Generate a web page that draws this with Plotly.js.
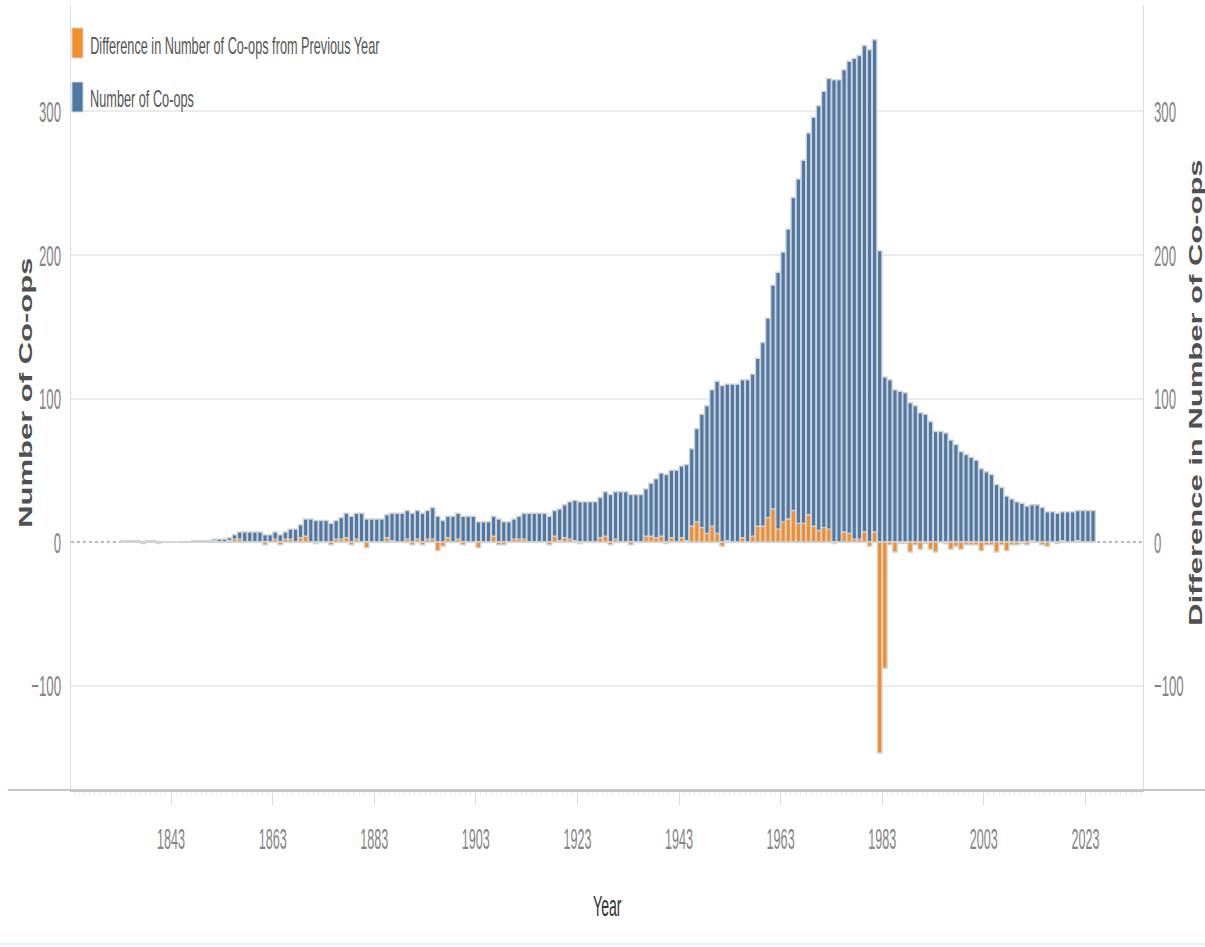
<!DOCTYPE html>
<html>
<head>
<meta charset="utf-8">
<script src="https://cdn.plot.ly/plotly-3.0.1.min.js"></script>
<style>
  html, body { margin: 0; padding: 0; background: #ffffff; }
  #chart { width: 1205px; height: 947px; }
</style>
</head>
<body>
<div id="chart"></div>
<script>
// ---------------- data ----------------
const startYear = 1833;
const years = [];
for (let y = startYear; y <= 2024; y++) years.push(y);

// Number of Co-ops per year, 1833 .. 2024
const coopCounts = [
  1, 1, 1, 1, 0, 1, 1, 0, 0, 0,            // 1833-1842
  0, 0, 0, 0, 1, 1, 1, 1, 2, 2,            // 1843-1852
  2, 3, 5, 7, 7, 7, 7, 7, 5, 5,            // 1853-1862
  7, 5, 7, 9, 9, 12, 16, 16, 15, 15,       // 1863-1872
  15, 13, 15, 17, 20, 18, 20, 20, 16, 16,  // 1873-1882
  16, 16, 19, 20, 20, 20, 22, 20, 22, 20,  // 1883-1892
  22, 24, 18, 15, 18, 18, 20, 18, 18, 18,  // 1893-1902
  14, 14, 14, 18, 16, 14, 14, 16, 18, 20,  // 1903-1912
  20, 20, 20, 20, 18, 22, 23, 26, 28, 29,  // 1913-1922
  28, 28, 28, 28, 31, 35, 33, 35, 35, 35,  // 1923-1932
  33, 33, 33, 37, 41, 44, 48, 47, 50, 50,  // 1933-1942
  53, 54, 65, 79, 89, 95, 106, 112, 109, 110,       // 1943-1952
  110, 110, 113, 113, 117, 128, 139, 156, 179, 188, // 1953-1962
  202, 218, 240, 253, 266, 285, 296, 304, 314, 323, // 1963-1972
  322, 322, 329, 335, 337, 339, 346, 343, 350, 203, // 1973-1982
  115, 113, 106, 105, 104, 97, 95, 90, 89, 84,      // 1983-1992
  77, 77, 76, 71, 68, 63, 61, 59, 57, 51,           // 1993-2002
  49, 47, 40, 38, 32, 30, 28, 27, 25, 26,           // 2003-2012
  26, 24, 21, 21, 20, 21, 21, 21, 22, 22,           // 2013-2022
  22, 22                                            // 2023-2024
];

// Difference in Number of Co-ops from Previous Year, 1833 .. 2024
const coopDiffs = [
  null, 0, 0, 0, -1, 1, 0, -1, 0, 0,       // 1833-1842
  0, 0, 0, 0, 1, 0, 0, 0, 1, 0,            // 1843-1852
  0, 1, 2, 2, 0, 0, 0, 0, -2, 0,           // 1853-1862
  2, -2, 2, 2, 0, 3, 4, 0, -1, 0,          // 1863-1872
  0, -2, 2, 2, 3, -2, 2, 0, -4, 0,         // 1873-1882
  0, 0, 3, 1, 0, 0, 2, -2, 2, -2,          // 1883-1892
  2, 2, -6, -3, 3, 0, 2, -2, 0, 0,         // 1893-1902
  -4, 0, 0, 4, -2, -2, 0, 2, 2, 2,         // 1903-1912
  0, 0, 0, 0, -2, 4, 1, 3, 2, 1,           // 1913-1922
  -1, 0, 0, 0, 3, 4, -2, 2, 0, 0,          // 1923-1932
  -2, 0, 0, 4, 4, 3, 4, -1, 3, 0,          // 1933-1942
  3, 1, 11, 14, 10, 6, 11, 6, -3, 1,       // 1943-1952
  0, 0, 3, 0, 4, 11, 11, 17, 23, 9,        // 1953-1962
  14, 16, 22, 13, 13, 19, 11, 8, 10, 9,    // 1963-1972
  -1, 0, 7, 6, 2, 2, 7, -3, 7, -147,       // 1973-1982
  -88, -2, -7, -1, -1, -7, -2, -5, -1, -5, // 1983-1992
  -7, 0, -1, -5, -3, -5, -2, -2, -2, -6,   // 1993-2002
  -2, -2, -7, -2, -6, -2, -2, -1, -2, 1,   // 2003-2012
  0, -2, -3, 0, -1, 1, 0, 0, 1, 0,         // 2013-2022
  0, 0                                     // 2023-2024
];

const tickYears = [1843, 1863, 1883, 1903, 1923, 1943, 1963, 1983, 2003, 2023];
const yTicks = [-100, 0, 100, 200, 300];

const seriesNames = ['Number of Co-ops', 'Difference in Number of Co-ops from Previous Year'];
const colors = { count: '#4e79a7', diff: '#f28e2b', halo: '#d3d3d3' };

// ---------------- chart ----------------
const FONT = 'Liberation Sans, Arial, sans-serif';
const yRange = [-172.8, 374.2];

const traces = [
  {
    type: 'bar', name: seriesNames[0], x: years, y: coopCounts,
    marker: { color: colors.count, line: { color: colors.halo, width: 1.4 } },
    yaxis: 'y', showlegend: false, hoverinfo: 'x+y'
  },
  {
    type: 'bar', name: seriesNames[1], x: years, y: coopDiffs,
    marker: { color: colors.diff, line: { color: colors.halo, width: 1.4 } },
    yaxis: 'y2', showlegend: false, hoverinfo: 'x+y'
  }
];

const tickFont = { family: FONT, size: 30, color: '#858585' };

const layout = {
  width: 1205, height: 947,
  margin: { l: 71, r: 62, t: 5, b: 157 },
  paper_bgcolor: '#ffffff', plot_bgcolor: '#ffffff',
  barmode: 'overlay', bargap: 0.1,
  showlegend: false,
  xaxis: {
    range: [1822.8, 2033.84],
    tickmode: 'array',
    tickvals: tickYears.map(y => y - 0.5),
    ticktext: tickYears.map(String),
    ticks: 'outside', ticklen: 13, tickwidth: 1, tickcolor: '#dcdcdc',
    ticklabelstandoff: 8,
    minor: { tickmode: 'linear', tick0: 1842.5, dtick: 1, ticks: 'outside', ticklen: 4, tickcolor: '#eeeeee', showgrid: false },
    showgrid: false, zeroline: false,
    showline: true, linecolor: '#c8c8c8', linewidth: 2,
    tickfont: tickFont
  },
  yaxis: {
    range: yRange, tickmode: 'array', tickvals: yTicks,
    showgrid: true, gridcolor: '#ececec', gridwidth: 1.5,
    zeroline: true, zerolinecolor: 'rgba(0,0,0,0)',
    showline: true, linecolor: '#dedede', linewidth: 1,
    ticks: '', ticklabelstandoff: 3,
    tickfont: tickFont
  },
  yaxis2: {
    range: yRange, tickmode: 'array', tickvals: yTicks,
    overlaying: 'y', side: 'right',
    showgrid: false, zeroline: false,
    showline: true, linecolor: '#dedede', linewidth: 1,
    ticks: '', ticklabelstandoff: 4,
    tickfont: tickFont
  },
  shapes: [
    { type: 'line', xref: 'paper', yref: 'y', x0: 0, x1: 1, y0: 0, y1: 0, layer: 'below',
      line: { color: '#a0a0a0', width: 1.5, dash: 'dot' } },
    { type: 'line', xref: 'paper', yref: 'paper', x0: -0.059, x1: 1.06, y0: 0, y1: 0,
      line: { color: '#c8c8c8', width: 2 } },
    { type: 'line', xref: 'paper', yref: 'paper', x0: -0.07, x1: 1.06, y0: -0.1962, y1: -0.1962,
      line: { color: '#d3ecef', width: 1.5 } },
    // legend swatches
    { type: 'rect', xref: 'paper', yref: 'paper', x0: 0.0009, x1: 0.0112, y0: 0.9325, y1: 0.9707,
      fillcolor: colors.diff, line: { color: colors.halo, width: 1 } },
    { type: 'rect', xref: 'paper', yref: 'paper', x0: 0.0009, x1: 0.0112, y0: 0.8637, y1: 0.9019,
      fillcolor: colors.count, line: { color: colors.halo, width: 1 } }
  ],
  annotations: [
    { text: seriesNames[1], xref: 'paper', yref: 'paper', x: 0.0158, y: 0.949,
      xanchor: 'left', yanchor: 'middle', showarrow: false,
      font: { family: FONT, size: 24, color: '#555555' } },
    { text: seriesNames[0], xref: 'paper', yref: 'paper', x: 0.0158, y: 0.8815,
      xanchor: 'left', yanchor: 'middle', showarrow: false,
      font: { family: FONT, size: 24, color: '#555555' } },
    { text: 'Number of Co-ops', xref: 'paper', yref: 'paper', x: -0.043, y: 0.5057,
      xanchor: 'center', yanchor: 'middle', textangle: -90, showarrow: false,
      font: { family: FONT, size: 31, color: '#505050', weight: 'bold' } },
    { text: 'Difference in Number of Co-ops', xref: 'paper', yref: 'paper', x: 1.0485, y: 0.507,
      xanchor: 'center', yanchor: 'middle', textangle: -90, showarrow: false,
      font: { family: FONT, size: 31, color: '#505050', weight: 'bold' } },
    { text: 'Year', xref: 'paper', yref: 'paper', x: 0.5, y: -0.1465,
      xanchor: 'center', yanchor: 'middle', showarrow: false,
      font: { family: FONT, size: 30, color: '#333333' } }
  ]
};

// horizontal squeeze of texts, to match the narrow lettering of the reference
function squeeze(nodes, s, pivotMode, vertical) {
  nodes.forEach(t => {
    const bb = t.getBBox();
    const tr = t.getAttribute('transform') || '';
    if (vertical) {
      const p = bb.y + bb.height / 2;
      t.setAttribute('transform', tr + ' translate(0,' + p + ') scale(1,' + s + ') translate(0,' + (-p) + ')');
    } else {
      const anchor = pivotMode || t.getAttribute('text-anchor') || 'middle';
      let p = bb.x + bb.width / 2;
      if (anchor === 'start') p = bb.x;
      else if (anchor === 'end') p = bb.x + bb.width;
      t.setAttribute('transform', tr + ' translate(' + p + ',0) scale(' + s + ',1) translate(' + (-p) + ',0)');
    }
  });
}

Plotly.newPlot('chart', traces, layout, { displayModeBar: false, responsive: false }).then(gd => {
  const q = sel => Array.from(gd.querySelectorAll(sel));
  squeeze(q('.xtick text'), 0.42);
  squeeze(q('.ytick text'), 0.44);
  squeeze(q('.y2tick text'), 0.44);
  const ann = i => q('.annotation[data-index="' + i + '"] text');
  squeeze(ann(0), 0.53, 'start');
  squeeze(ann(1), 0.53, 'start');
  squeeze(ann(2), 0.6, null, true);
  squeeze(ann(3), 0.6, null, true);
  squeeze(ann(4), 0.47);
});
</script>
</body>
</html>
